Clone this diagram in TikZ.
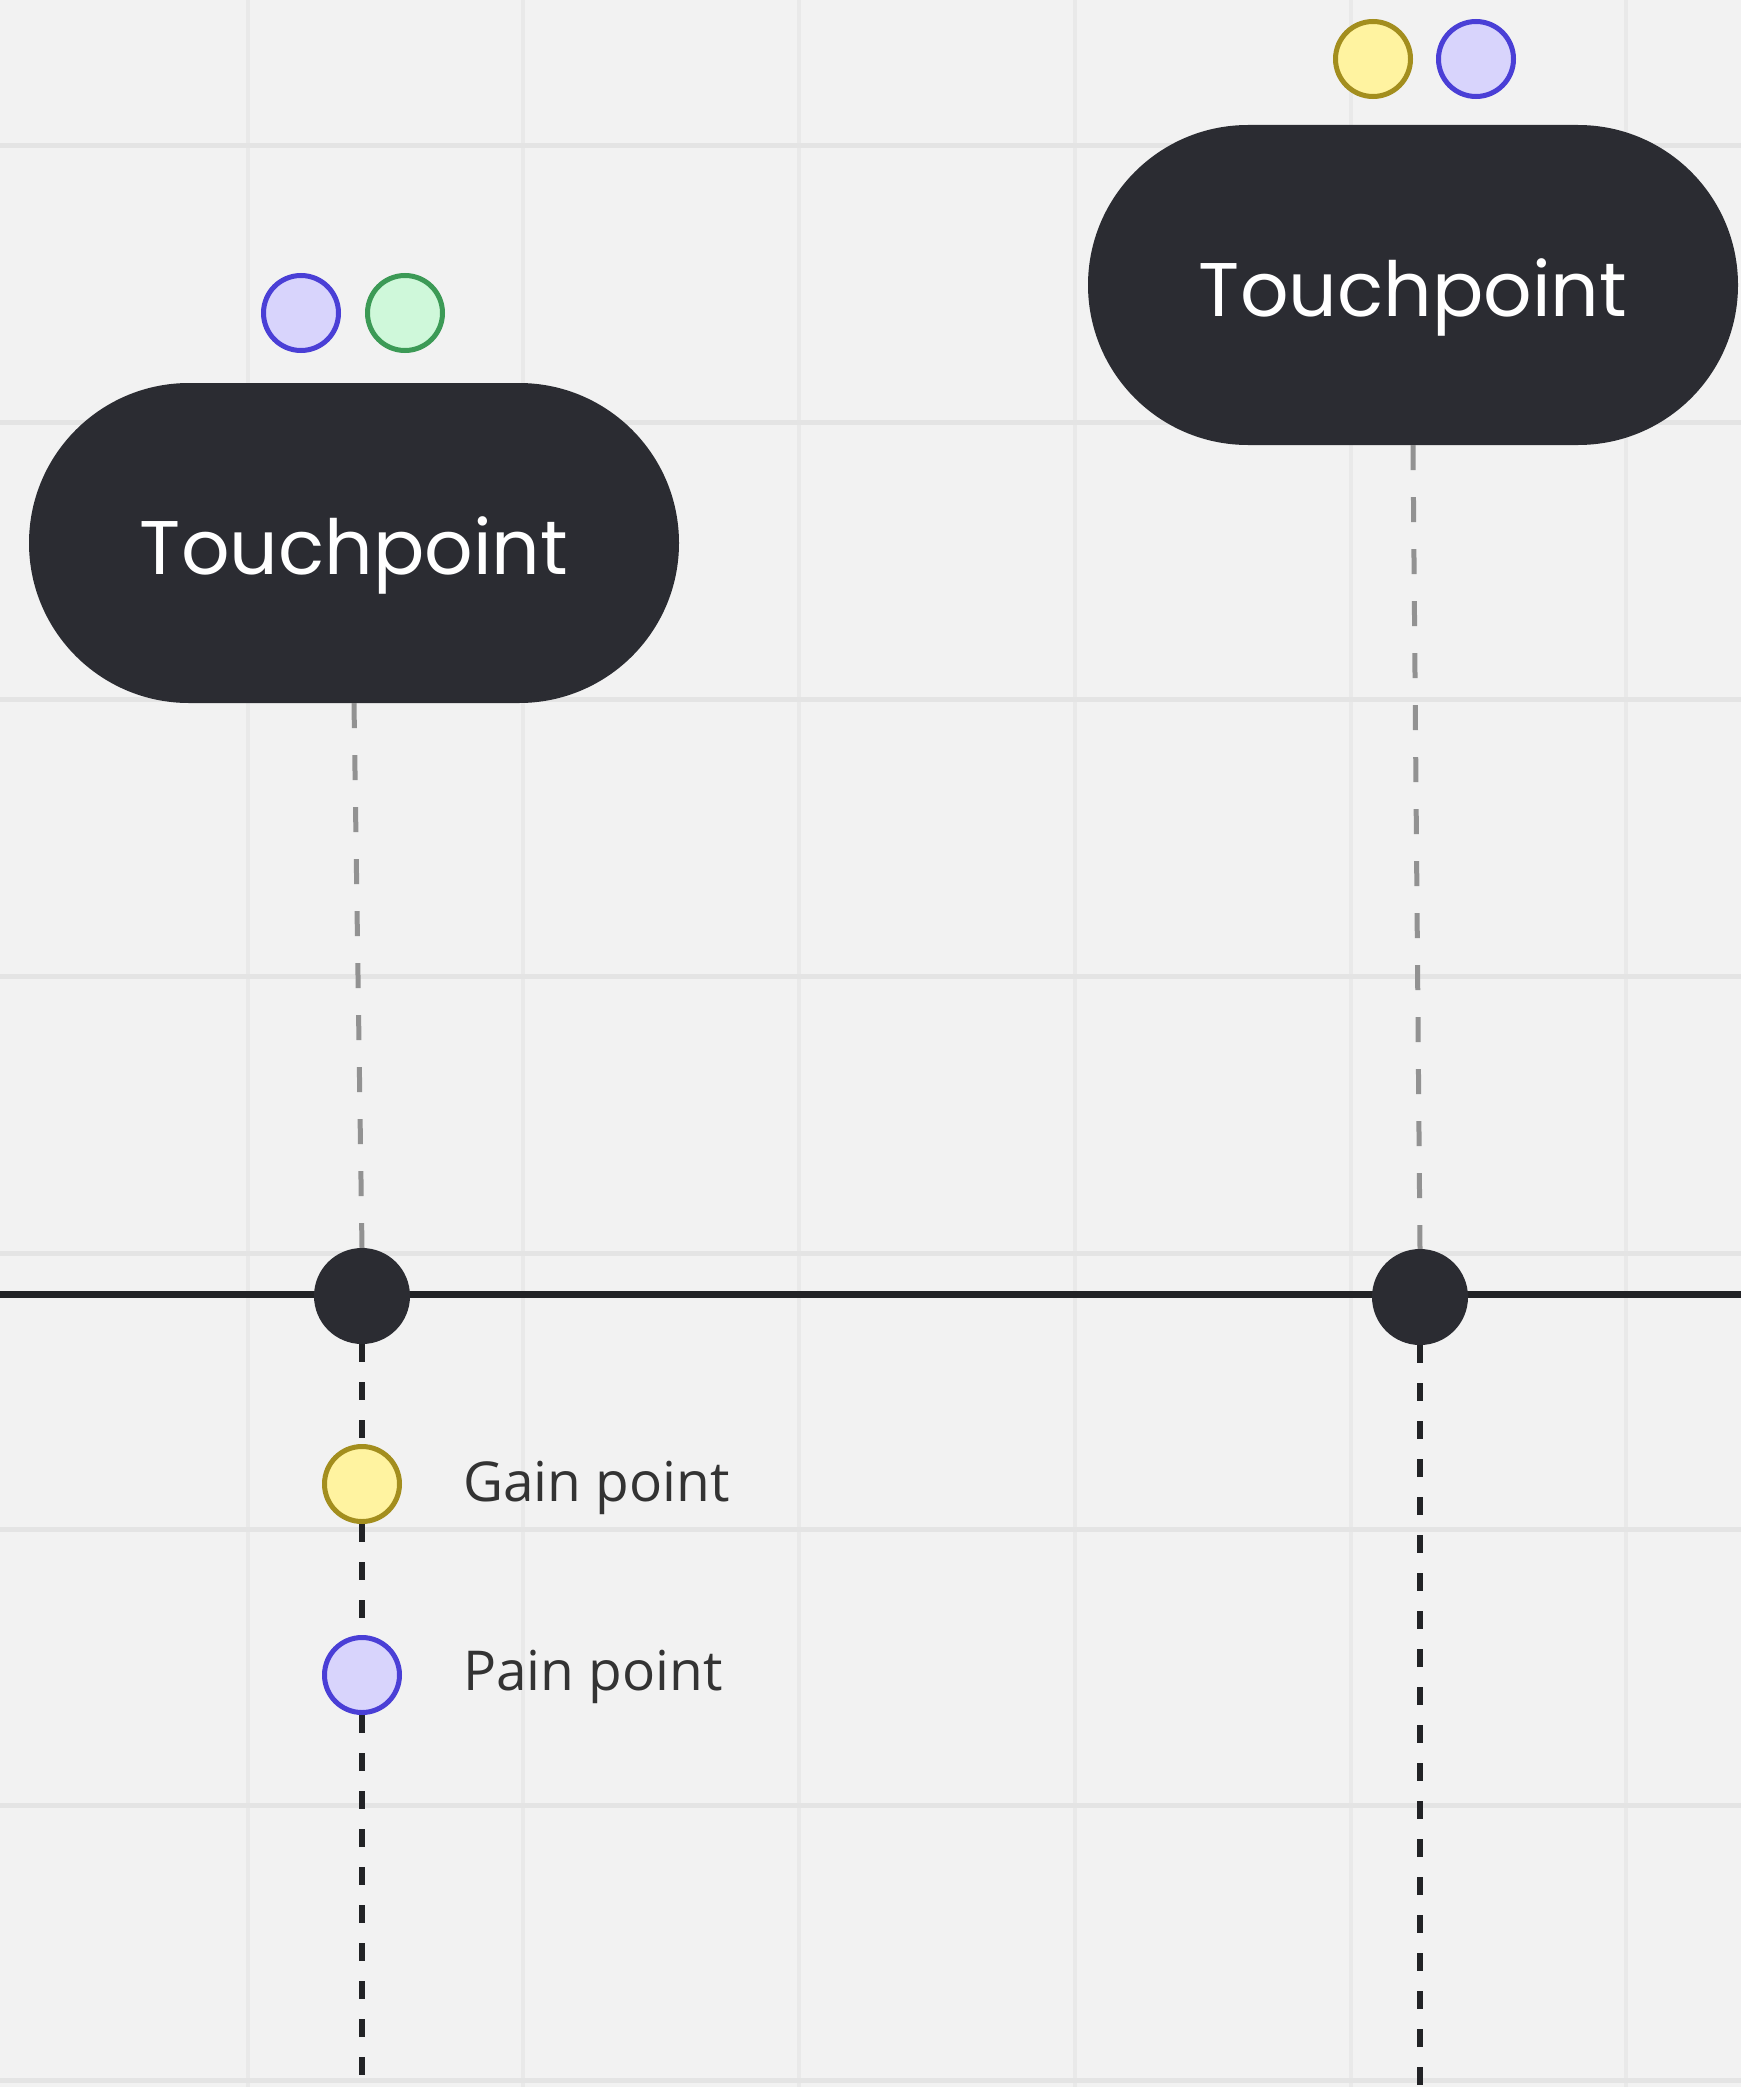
\documentclass[tikz,border=0pt]{standalone}
\usepackage{fontspec}
\setmainfont{Open Sans}
\newfontfamily\pillfont{Poppins}
\usetikzlibrary{shapes.misc}
\definecolor{bgc}{HTML}{F2F2F2}
\definecolor{gridh}{HTML}{E4E4E4}
\definecolor{gridv}{HTML}{E9E9E9}
\definecolor{inkc}{HTML}{2B2C32}
\definecolor{linec}{HTML}{222326}
\definecolor{greyd}{HTML}{929292}
\definecolor{yelfill}{HTML}{FFF3A0}
\definecolor{yelline}{HTML}{A38E1E}
\definecolor{purfill}{HTML}{D8D4FC}
\definecolor{purline}{HTML}{4A3FD6}
\definecolor{grnfill}{HTML}{CFF8DA}
\definecolor{grnline}{HTML}{3C9A56}
\definecolor{labc}{HTML}{333333}
\tikzset{
  pill/.style={shape=rounded rectangle, fill=inkc, draw=none, minimum width=650pt, minimum height=320pt,
    inner sep=0pt, text=white, font=\pillfont\fontsize{76}{82}\selectfont, text height=62pt, text depth=0pt},
  bigdot/.style={circle, fill=inkc, draw=none, minimum size=96pt, inner sep=0pt},
  gaindot/.style={circle, fill=yelfill, draw=yelline, line width=5pt, minimum size=75pt, inner sep=0pt},
  paindot/.style={circle, fill=purfill, draw=purline, line width=5pt, minimum size=75pt, inner sep=0pt},
  greendot/.style={circle, fill=grnfill, draw=grnline, line width=5pt, minimum size=75pt, inner sep=0pt},
  legendtext/.style={anchor=base west, inner sep=0pt, text=labc, font=\fontsize{55}{60}\selectfont},
  greydash/.style={draw=greyd, line width=5pt, dash pattern=on 25pt off 27pt},
  blackdash/.style={draw=linec, line width=6.5pt, dash pattern=on 18pt off 20pt},
  gridlineh/.style={draw=gridh, line width=5pt},
  gridlinev/.style={draw=gridv, line width=4pt},
  mainline/.style={draw=linec, line width=7pt}
}
\begin{document}
\begin{tikzpicture}[x=1pt,y=-1pt]
  \fill[bgc] (0,0) rectangle (1741,2087);
  \useasboundingbox (0,0) rectangle (1741,2087);
  % grid
  \foreach \gx in {248,523,799,1075,1351,1626} {\draw[gridlinev] (\gx,0) -- (\gx,2087);}
  \foreach \gy in {146,422,699,976,1253,1529,1805,2080} {\draw[gridlineh] (0,\gy) -- (1741,\gy);}
  % main line
  \coordinate (L) at (0,1294);
  \coordinate (R) at (1741,1294);
  \draw[mainline] (L) -- (R);
  % touchpoints
  \node[pill] (tp1) at (354,543) {Touchpoint};
  \node[pill] (tp2) at (1413,285) {Touchpoint};
  % indicator dots above pills
  \node[paindot] (p1a) at (301,313) {};
  \node[greendot] (p1b) at (405,313) {};
  \node[gaindot] (p2a) at (1373,59) {};
  \node[paindot] (p2b) at (1476,59) {};
  % timeline dots
  \node[bigdot] (d1) at (362,1296) {};
  \node[bigdot] (d2) at (1420,1297) {};
  % legend
  \node[gaindot] (gain) at (362,1484) {};
  \node[paindot] (pain) at (362,1675) {};
  \node[legendtext] (gaintxt) at (463,1501) {Gain point};
  \node[legendtext] (paintxt) at (463,1690) {Pain point};
  % connectors
  \coordinate (b1) at (362,2087);
  \coordinate (b2) at (1420,2087);
  \draw[greydash] (tp1.south) -- (d1.north);
  \draw[greydash] (tp2.south) -- (d2.north);
  \draw[blackdash] (d1.south) -- (gain.north);
  \draw[blackdash] (gain.south) -- (pain.north);
  \draw[blackdash] (pain.south) -- (b1);
  \draw[blackdash] (d2.south) -- (b2);
\end{tikzpicture}
\end{document}
